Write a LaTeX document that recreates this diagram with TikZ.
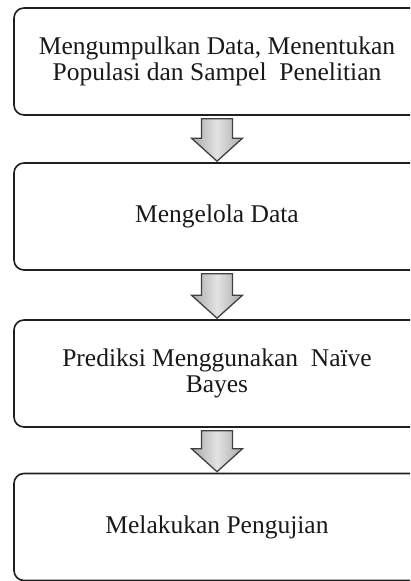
\documentclass[tikz,border=0pt]{standalone}
\usepackage{fontspec}
\setmainfont{Liberation Serif}
\usetikzlibrary{calc}
\tikzset{
  stepbox/.style={draw=black!88, line width=1.6pt, rounded corners=10pt,
    minimum width=406pt, minimum height=107pt, align=center,
    font=\fontsize{25.5pt}{26pt}\selectfont, text=black!90, inner sep=0pt},
  blockarrow/.style={draw=black!75, line width=1.3pt, line join=miter,
    left color=gray!68, right color=gray!68, middle color=gray!22}
}
\begin{document}
\begin{tikzpicture}[x=1pt, y=-1pt]
\useasboundingbox (0,0) rectangle (410,581);
\clip (0,0) rectangle (410,581);
\node[stepbox] (b1) at (217,61.5) {Mengumpulkan Data, Menentukan\\Populasi dan Sampel~ Penelitian};
\node[stepbox] (b2) at (217,216.5) {Mengelola Data};
\node[stepbox] (b3) at (217,373.5) {Prediksi Menggunakan~ Naïve\\Bayes};
\node[stepbox] (b4) at (217,527) {Melakukan Pengujian};
\foreach \a/\b in {b1/b2, b2/b3, b3/b4}{
  \draw[blockarrow]
    ($(\a.south)+(-15.5,3)$) -- ($(\b.north)+(-15.5,-24)$) -- ($(\b.north)+(-25.5,-24)$)
    -- ($(\b.north)+(0,-1)$) -- ($(\b.north)+(25.5,-24)$) -- ($(\b.north)+(15.5,-24)$)
    -- ($(\a.south)+(15.5,3)$) -- cycle;
}
\end{tikzpicture}
\end{document}
